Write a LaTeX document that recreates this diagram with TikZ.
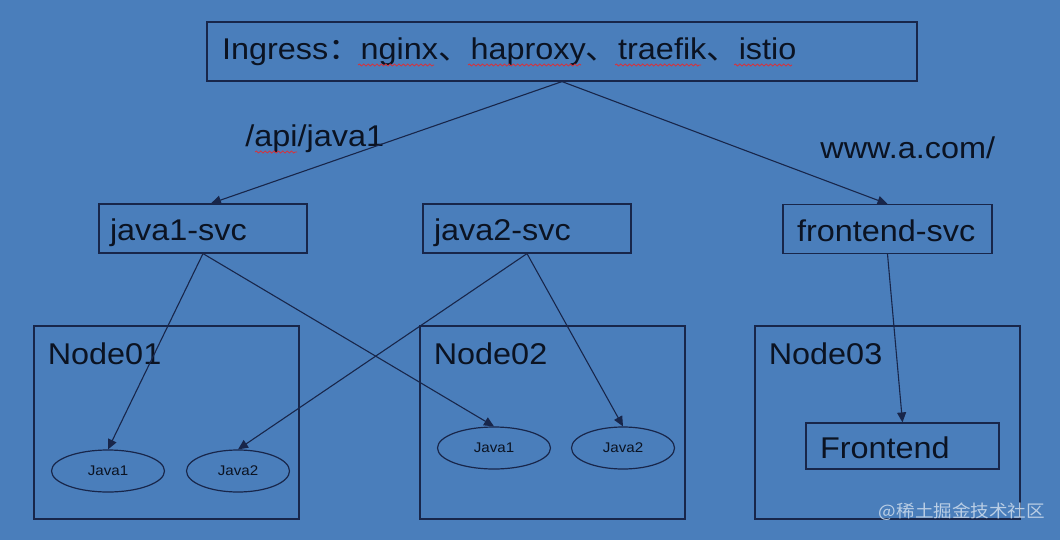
\documentclass[tikz,border=0pt]{standalone}
\usepackage{fontspec}
\setmainfont{Liberation Sans}[FakeStretch=1.08]
\newfontfamily\cjk{Noto Sans CJK SC}[FakeStretch=1.08]
\usetikzlibrary{arrows.meta,shapes.geometric,decorations.pathmorphing}
\definecolor{slidebg}{HTML}{4A7EBB}
\definecolor{inkline}{HTML}{18264A}
\definecolor{inktext}{HTML}{0B1322}
\definecolor{spellred}{HTML}{D8323A}

\begin{document}
\begin{tikzpicture}[x=0.5pt,y=-0.5pt,>={Triangle[length=5pt,width=4.5pt]},
    every node/.style={text=inktext,font=\fontsize{15}{18}\selectfont},
    box/.style={draw=inkline,line width=.6pt,align=left,inner xsep=5.5pt,text width=93pt,minimum height=24.5pt,text height=13pt,text depth=1pt},
    host/.style={draw=inkline,line width=.6pt,minimum width=132.5pt,minimum height=96.5pt},
    hostname/.style={anchor=north west,inner sep=0pt,xshift=7pt,yshift=-8.5pt},
    pod/.style={ellipse,draw=inkline,line width=.6pt,inner sep=0pt,minimum height=21pt,font=\fontsize{7}{8}\selectfont},
    link/.style={->,draw=inkline,line width=.55pt},
    spell/.style={spellred,line width=.4pt,decorate,decoration={snake,amplitude=.5pt,segment length=2.2pt}}]

%slide background
    \fill[slidebg] (0,0) rectangle (1060,540);

%ingress box
    \node[box,text width=340pt,inner xsep=7.5pt,minimum height=29.5pt,text height=11.5pt,text depth=3pt] (ingress) at (562,51.5)
        {Ingress{\cjk ：}nginx{\cjk 、}haproxy{\cjk 、}traefik{\cjk 、}istio};

%services
    \node[box] (j1svc) at (203,228.5) {java1-svc};
    \node[box] (j2svc) at (527,228.5) {java2-svc};
    \node[box,inner xsep=7pt,text width=90.5pt] (fesvc) at (887.5,229) {frontend-svc};

%route labels
    \node[anchor=base west,inner sep=0pt] (apipath) at (245,147) {/api/java1};
    \node[anchor=base west,inner sep=0pt] (wwwpath) at (820,159) {www.a.com/};

%worker nodes
    \node[host,label={[hostname]north west:Node01}] (node1) at (166.5,422.5) {};
    \node[host,label={[hostname]north west:Node02}] (node2) at (552.5,422.5) {};
    \node[host,label={[hostname]north west:Node03}] (node3) at (887.5,422.5) {};

%pods
    \node[pod,minimum width=56.5pt] (n1java1) at (108,471) {Java1};
    \node[pod,minimum width=51.5pt] (n1java2) at (238,471) {Java2};
    \node[pod,minimum width=56.5pt] (n2java1) at (494,448) {Java1};
    \node[pod,minimum width=51.5pt] (n2java2) at (623,448) {Java2};
    \node[box,inner xsep=7pt,text width=82.5pt,minimum height=23pt] (frontend) at (902.5,446) {Frontend};

%routes
    \draw[link] (ingress.south) -- ([xshift=4pt]j1svc.north);
    \draw[link] (ingress.south) -- (fesvc.north);
    \foreach \svc/\pod in {j1svc/n1java1,j1svc/n2java1,j2svc/n1java2,j2svc/n2java2,fesvc/frontend}
        {
        \draw[link] (\svc.south) -- (\pod.north);
    }

%spell-check marks
    \foreach \from/\to/\lvl in {358/434/65,468/581/65,615/701/65,734/792/65,255/297/152}
        \draw[spell] (\from,\lvl) -- (\to,\lvl);

%watermark
    \node[text=white!62!slidebg,font=\cjk\fontsize{8.6}{10}\selectfont] (mark) at (962,512) {@稀土掘金技术社区};
\end{tikzpicture}
\end{document}
